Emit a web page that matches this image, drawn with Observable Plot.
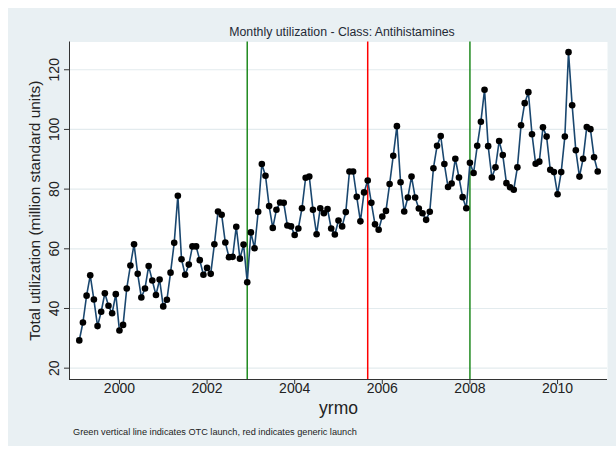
<!DOCTYPE html>
<html><head><meta charset="utf-8">
<script src="https://cdn.jsdelivr.net/npm/d3@7"></script>
<script src="https://cdn.jsdelivr.net/npm/@observablehq/plot@0.6"></script>
<style>
body{margin:0;background:#fff;width:616px;height:449px;position:relative;overflow:hidden;font-family:"Liberation Sans",Arial,sans-serif;}
#bg{position:absolute;left:8px;top:8px;width:608px;height:438px;background:#e9f0f3;}
#title{position:absolute;top:24px;left:342px;transform:translateX(-50%);white-space:nowrap;font-size:12.3px;line-height:16px;color:#1f2a36;}
#chart{position:absolute;left:0;top:40px;}
#caption{position:absolute;left:73px;top:426px;font-size:9.2px;line-height:12px;color:#222;white-space:nowrap;}
</style></head>
<body>
<div id="bg"></div>
<div id="title">Monthly utilization - Class: Antihistamines</div>
<div id="chart"></div>
<div id="caption">Green vertical line indicates OTC launch, red indicates generic launch</div>
<script>
// first observation: 1999m2, one value per month through 2010m12
const startYear = 1999, startMonth = 2;
const utilization = [
  29.3, 35.3, 44.3, 51.1, 43.0, 34.1, 38.9, 45.1, 40.9, 38.4, 44.8,
  32.6, 34.5, 46.7, 54.4, 61.5, 51.6, 43.7, 46.7, 54.2, 49.4, 44.5, 49.7,
  40.7, 42.9, 52.0, 62.0, 77.8, 56.5, 51.3, 54.7, 60.8, 60.8, 56.2, 51.3,
  53.6, 51.6, 61.5, 72.5, 71.4, 62.1, 57.2, 57.3, 67.4, 56.7, 61.4, 48.8,
  65.5, 60.2, 72.4, 88.4, 84.5, 74.3, 67.0, 73.1, 75.5, 75.4, 67.8, 67.5,
  64.6, 66.8, 73.6, 83.8, 84.2, 73.1, 64.9, 73.6, 71.9, 73.3, 66.8, 64.8,
  69.5, 67.5, 72.3, 85.9, 85.9, 77.4, 69.2, 78.9, 82.9, 75.4, 68.2, 66.4,
  70.8, 72.7, 81.7, 91.2, 101.1, 82.3, 72.5, 77.2, 84.2, 77.2, 73.5, 71.9,
  69.7, 72.4, 87.0, 94.5, 97.8, 88.4, 80.7, 81.9, 90.2, 83.9, 77.3, 73.6,
  88.8, 85.4, 94.5, 102.6, 113.3, 94.4, 83.9, 87.3, 96.1, 91.4, 82.0, 80.6,
  79.8, 87.3, 101.4, 108.8, 112.5, 98.4, 88.5, 89.2, 100.7, 97.6, 86.5, 85.7,
  78.3, 85.7, 97.6, 125.9, 108.1, 93.0, 84.2, 90.2, 100.8, 100.1, 90.7, 85.9
];
const xTicks = [2000, 2002, 2004, 2006, 2008, 2010];
const yTicks = [20, 40, 60, 80, 100, 120];
const otcLaunch = ["2002m12", "2008m1"];
const genericLaunch = ["2005m9"];
const yTitle = "Total utilization (million standard units)";
const xTitle = "yrmo";

const toYear = s => { const [y, m] = s.split("m").map(Number); return y + (m - 1) / 12; };
const data = utilization.map((v, i) => ({x: startYear + (startMonth - 1 + i) / 12, v}));
const xDom = [1998.86, 2011.14], yDom = [16.2, 129.3];

const chart = Plot.plot({
  width: 616, height: 380,
  marginTop: 1.5, marginBottom: 41, marginLeft: 69, marginRight: 9,
  style: {background: "transparent", fontFamily: "Liberation Sans, Arial, sans-serif", overflow: "visible", color: "#222"},
  x: {domain: xDom},
  y: {domain: yDom},
  marks: [
    Plot.frame({fill: "white", stroke: "none"}),
    Plot.gridY(yTicks, {stroke: "#e3ebee", strokeOpacity: 1, strokeWidth: 1.2}),
    Plot.ruleX(otcLaunch.map(toYear), {x: d => d, stroke: "#1f8a1f", strokeWidth: 1.5}),
    Plot.ruleX(genericLaunch.map(toYear), {x: d => d, stroke: "#ff0000", strokeWidth: 1.5}),
    Plot.line(data, {x: "x", y: "v", stroke: "#1a476f", strokeWidth: 1.6}),
    Plot.dot(data, {x: "x", y: "v", r: 3.3, fill: "black", stroke: "none"}),
    Plot.axisX({ticks: xTicks, tickSize: 5, tickFormat: () => "", label: null, stroke: "#333"}),
    Plot.axisY({ticks: yTicks, tickSize: 5, tickFormat: () => "", label: null, stroke: "#333"}),
    Plot.ruleX([xDom[0]], {stroke: "#333", strokeWidth: 1}),
    Plot.ruleY([yDom[0]], {stroke: "#333", strokeWidth: 1}),
    Plot.text(xTicks, {x: d => d, text: d => String(d), frameAnchor: "bottom", dy: 13, fontSize: 14, fill: "#222"}),
    Plot.text(yTicks, {y: d => d, text: d => String(d), frameAnchor: "left", textAnchor: "middle", dx: -15, rotate: -90, fontSize: 14, fill: "#222"}),
    Plot.text([yTitle], {text: d => d, frameAnchor: "left", textAnchor: "middle", dx: -34, rotate: -90, fontSize: 15.4, fill: "#222"}),
    Plot.text([xTitle], {text: d => d, frameAnchor: "bottom", dy: 34, fontSize: 17.5, fill: "#222"})
  ]
});
document.getElementById("chart").appendChild(chart);
</script>
</body></html>
